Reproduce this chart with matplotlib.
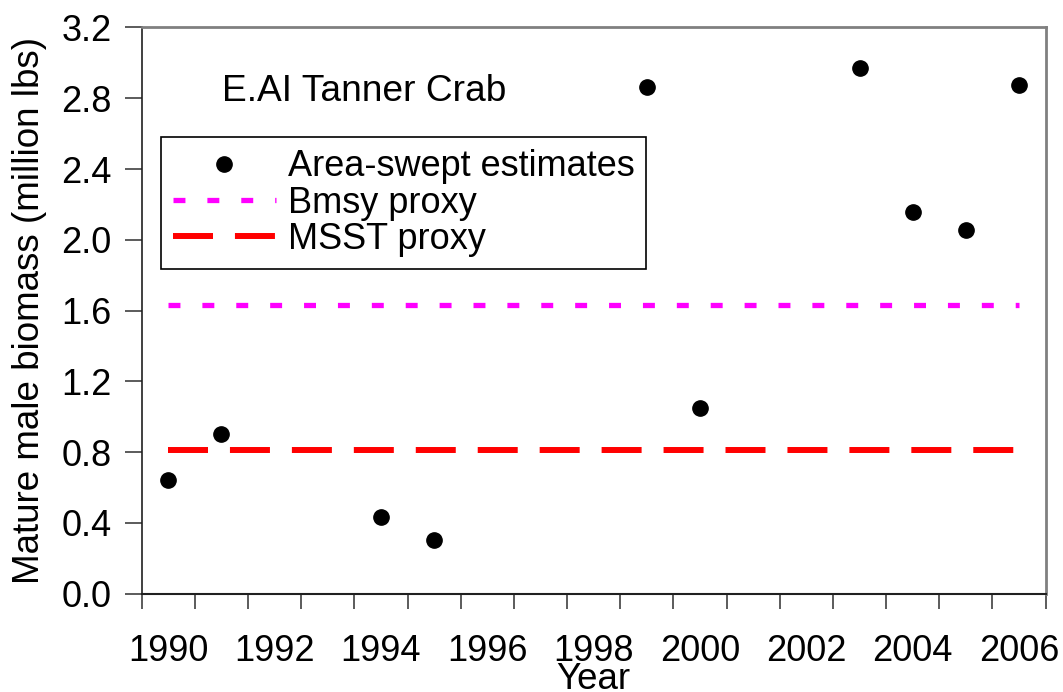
import matplotlib
matplotlib.use("Agg")
import matplotlib.pyplot as plt
from matplotlib.ticker import FixedLocator, FixedFormatter

plt.rcParams['font.family'] = ['Liberation Sans', 'DejaVu Sans']
plt.rcParams['lines.scale_dashes'] = False

# Data
years = [1990, 1991, 1994, 1995, 1999, 2000, 2003, 2004, 2005, 2006]
biomass = [0.645, 0.905, 0.431, 0.303, 2.864, 1.051, 2.97, 2.159, 2.054, 2.873]
all_years = list(range(1990, 2007))
bmsy = 1.63
msst = 0.815
y_ticks = [0.0, 0.4, 0.8, 1.2, 1.6, 2.0, 2.4, 2.8, 3.2]
x_ticks = [1990, 1992, 1994, 1996, 1998, 2000, 2002, 2004, 2006]

fig = plt.figure(figsize=(10.63, 6.92), dpi=100)
ax = fig.add_axes([0.1333, 0.1420, 0.8504, 0.8183])

ax.plot(years, biomass, 'o', color='black', markersize=11, label='Area-swept estimates', zorder=5)
ax.plot([all_years[0], all_years[-1]], [bmsy, bmsy], color='#ff00ff', linewidth=3.8,
        dashes=(8.6, 15.8), solid_capstyle='butt', dash_capstyle='butt', label='Bmsy proxy')
ax.plot([all_years[0], all_years[-1]], [msst, msst], color='#ff0000', linewidth=4.3,
        dashes=(28.8, 15.8), solid_capstyle='butt', dash_capstyle='butt', label='MSST proxy')

ax.set_xlim(all_years[0] - 0.5, all_years[-1] + 0.5)
ax.set_ylim(0, 3.2)

# category style axis: tick marks at boundaries, labels at centres
ax.xaxis.set_major_locator(FixedLocator(x_ticks))
ax.xaxis.set_major_formatter(FixedFormatter([str(y) for y in x_ticks]))
ax.xaxis.set_minor_locator(FixedLocator([y - 0.5 for y in all_years] + [all_years[-1] + 0.5]))
ax.tick_params(axis='x', which='major', length=0, pad=29, labelsize=26)
ax.tick_params(axis='x', which='minor', length=11, width=1.2, color='#404040', direction='out')

ax.set_yticks(y_ticks)
ax.set_yticklabels(['%.1f' % v for v in y_ticks])
ax.tick_params(axis='y', length=12, width=1.2, color='#404040', pad=9.5, labelsize=26)

ax.spines['left'].set_color('#202020')
ax.spines['bottom'].set_color('#202020')
ax.spines['left'].set_linewidth(1.2)
ax.spines['bottom'].set_linewidth(1.5)
ax.spines['top'].set_color('#808080')
ax.spines['right'].set_color('#808080')
ax.spines['top'].set_linewidth(2)
ax.spines['right'].set_linewidth(2)

ax.set_xlabel('Year', fontsize=26.5)
ax.xaxis.set_label_coords(0.5, -0.121)
ax.set_ylabel('Mature male biomass (million lbs)', fontsize=26.5)
ax.yaxis.set_label_coords(-0.105, 0.5)

ax.text(0.089, 0.871, 'E.AI Tanner Crab', transform=ax.transAxes, fontsize=26.7,
        ha='left', va='baseline')

leg = ax.legend(loc='upper left', bbox_to_anchor=(0.021, 0.806), borderaxespad=0,
                fontsize=26, handlelength=2.86, handletextpad=0.33, labelspacing=0.04,
                borderpad=0.33, fancybox=False, framealpha=1, edgecolor='black')
leg.get_frame().set_linewidth(1.2)

fig.savefig('out.png', dpi=100)
